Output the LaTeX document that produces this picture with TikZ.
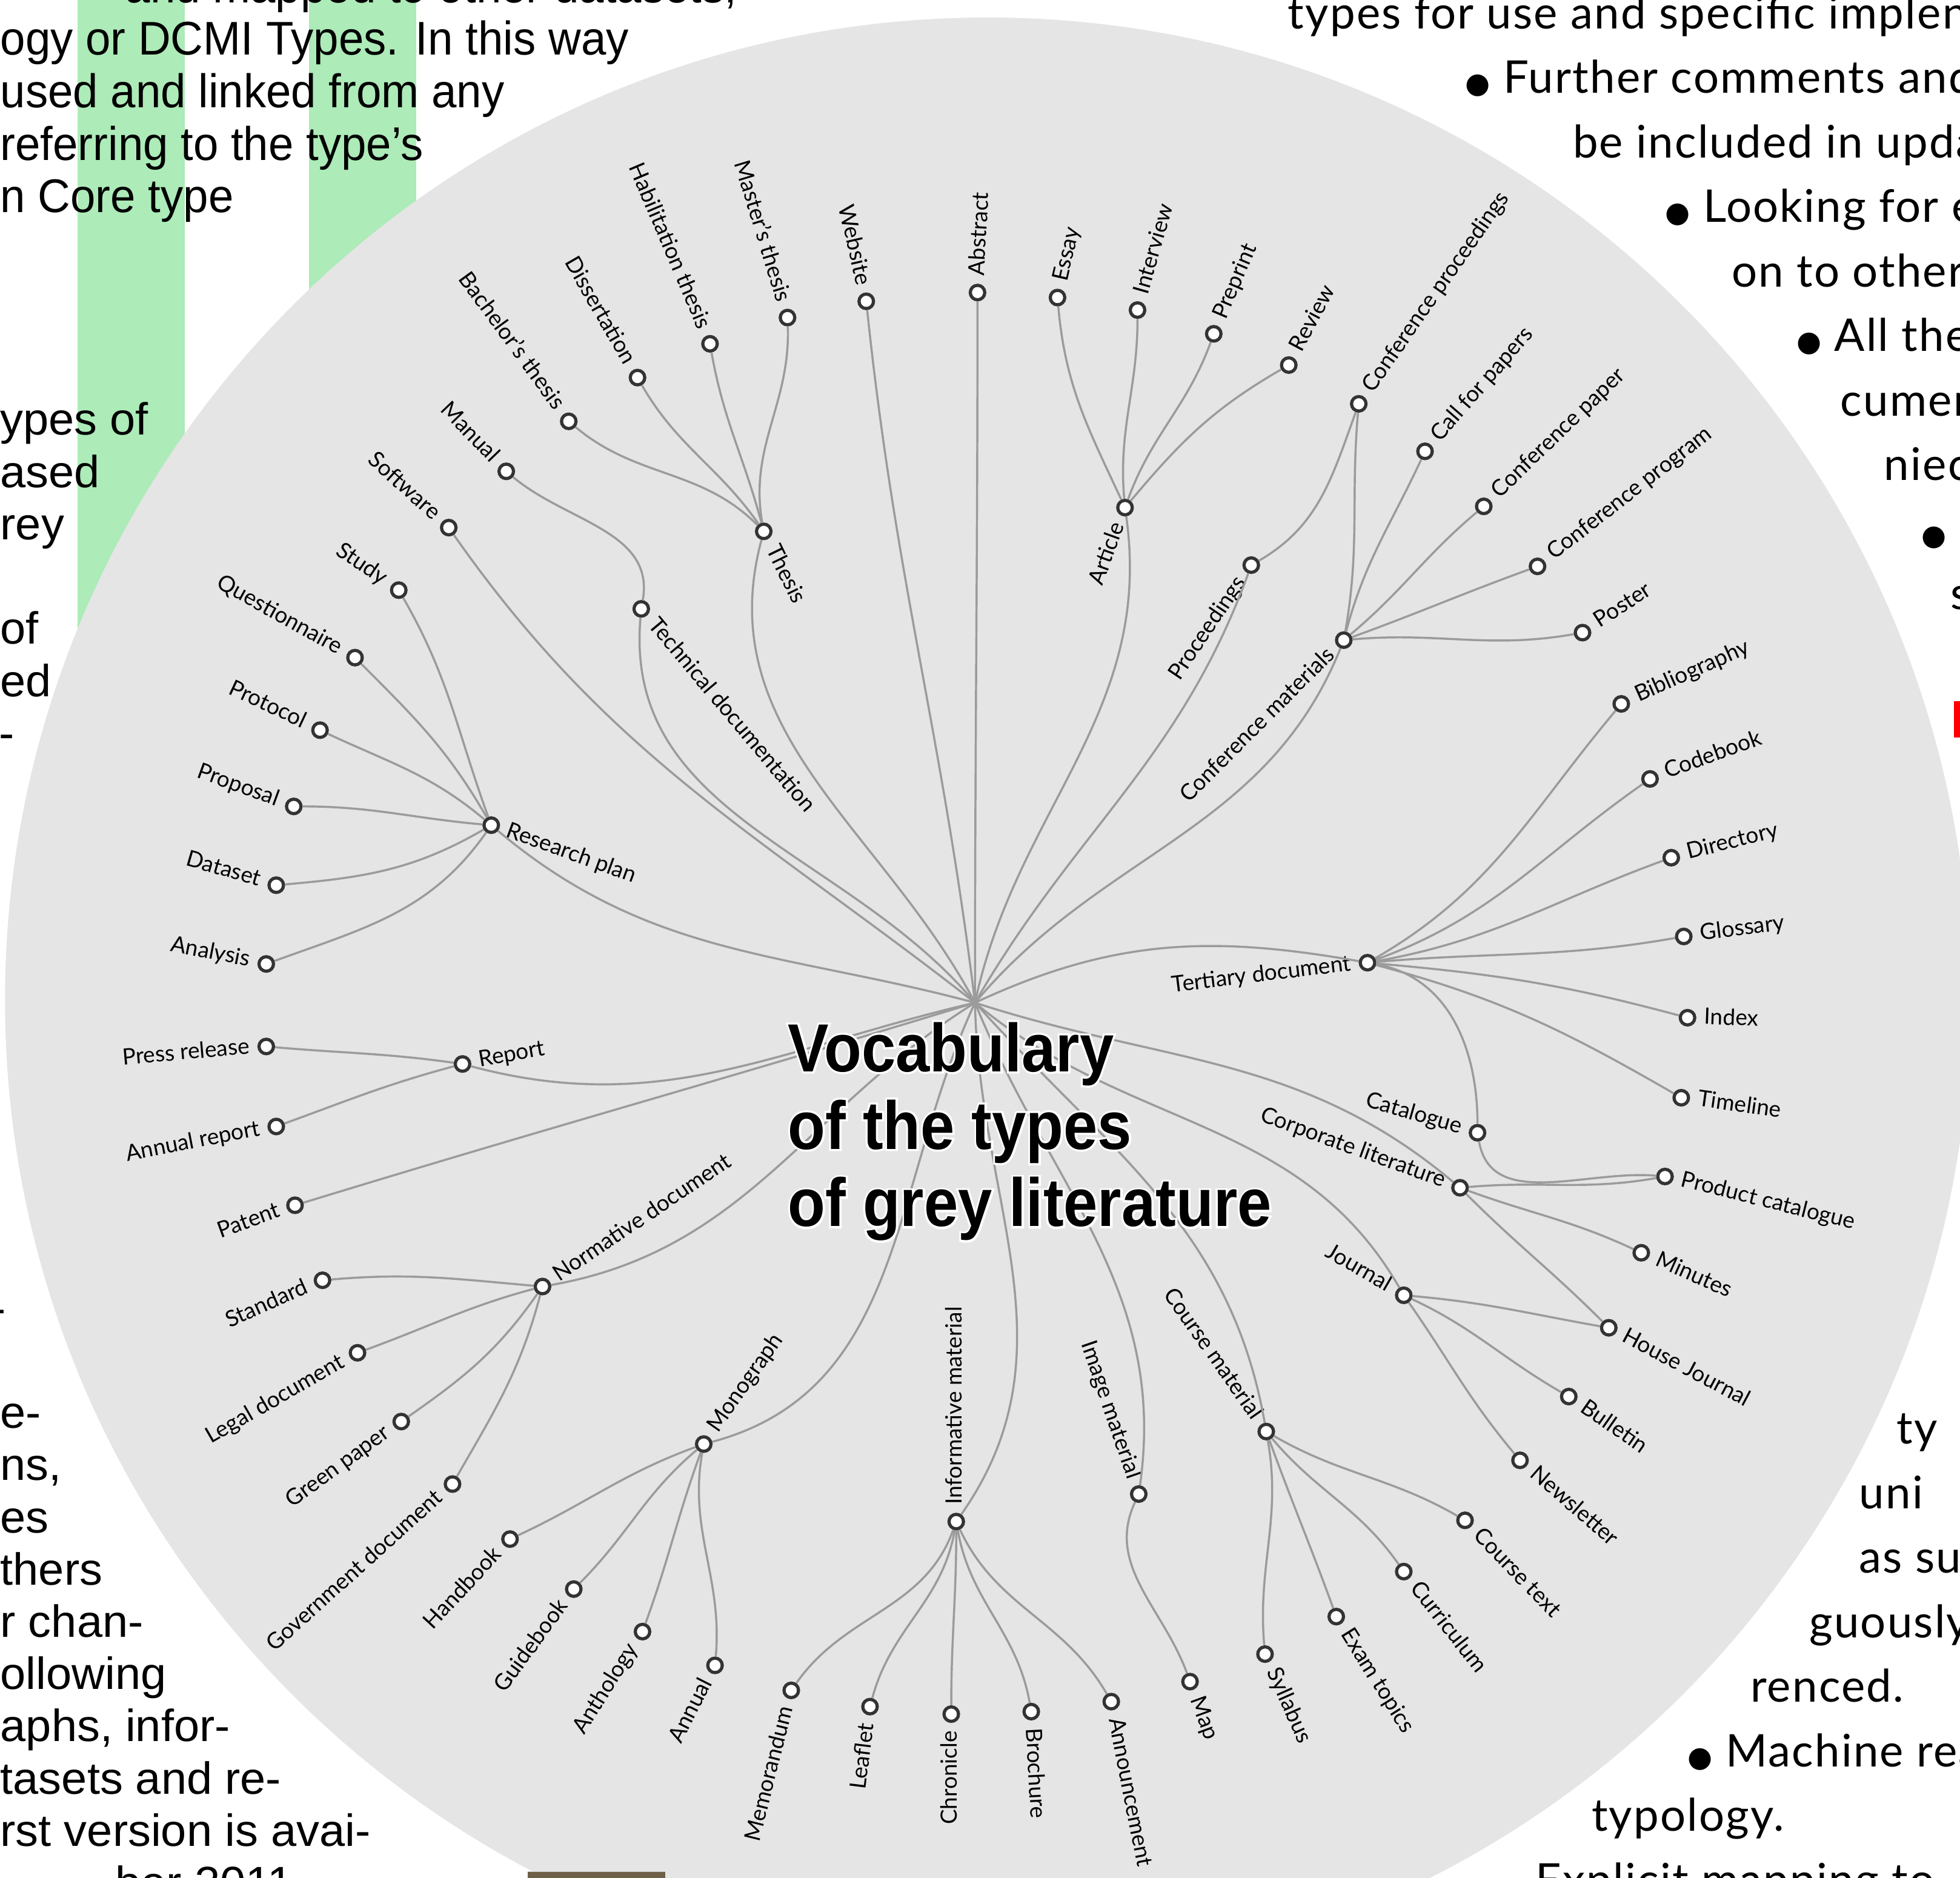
\documentclass[tikz,border=0pt]{standalone}
\usepackage{fontspec}
\usepackage{graphicx}
\setmainfont{Lato}
\newfontfamily\lblfont{Lato}
\newfontfamily\sidefont[LetterSpace=3]{Lato}
\newfontfamily\titlefont[FakeStretch=0.9]{Liberation Sans Bold}
\newfontfamily\titlehalo[FakeStretch=0.9, FakeBold=6]{Liberation Sans Bold}
\newfontfamily\condfont[FakeStretch=0.955]{Liberation Sans}
\newfontfamily\leftfont[FakeStretch=1.02]{Liberation Sans}
\newfontfamily\symfont{DejaVu Sans}

\definecolor{disc}{HTML}{E5E5E5}
\definecolor{barcol}{HTML}{ADEBB8}
\definecolor{linkcol}{HTML}{9B9B9B}
\definecolor{ringcol}{HTML}{333333}
\definecolor{photocol}{HTML}{6E5F48}

% white outline behind the title letters
\newcommand\halo[1]{\rlap{\titlehalo\color{white}#1}#1}
\newcommand\bul{{\symfont\fontsize{13}{13}\selectfont ●}}

\begin{document}
\begin{tikzpicture}[x=0.2mm, y=0.2mm,
  dot/.style={circle, draw=ringcol, fill=white, line width=1.45pt, inner sep=0pt, minimum size=6.6pt},
  lbl/.style={font=\lblfont\fontsize{10.2}{12}\selectfont, inner sep=0pt, text height=7pt, text depth=1.7pt},
  lbl east/.style={lbl, anchor=east, rotate=#1, xshift=-7.5pt},
  lbl west/.style={lbl, anchor=west, rotate=#1, xshift=7.5pt},
  link/.style={draw=linkcol, line width=0.95pt},
  ttl/.style={font=\titlefont\fontsize{31}{35}\selectfont, inner sep=0pt, anchor=base west},
  condtext/.style={font=\condfont\fontsize{21.5}{25}\selectfont, inner sep=0pt, anchor=base west},
  sidetext/.style={font=\leftfont\fontsize{20.5}{24}\selectfont, inner sep=0pt, anchor=base west},
  righttext/.style={font=\sidefont\fontsize{20.5}{24}\selectfont, inner sep=0pt, anchor=base west}]

\useasboundingbox (0,0) rectangle (1568,-1502);
\clip (0,0) rectangle (1568,-1502);

% green columns, then the disc over them
\fill[barcol] (62,0) rectangle (148,-620);
\fill[barcol] (247,0) rectangle (333,-400);
\fill[disc] (790,-800) circle (786);

% page text round the disc
\node[condtext, anchor=base east] (top0) at (590,-2) {and mapped to other datasets,};
\foreach \k/\t in {1/ogy or DCMI Types. In this way, 2/used and linked from any,
    3/referring to the type’s, 4/n Core type}
  \node[condtext] (top\k) at (0,{-2-42*\k}) {\t};
\foreach \k/\t in {0/ypes of, 1/ased, 2/rey, 4/of, 5/ed, 19/e-, 20/{ns,}, 21/es, 22/thers,
    23/r chan-, 24/ollowing, 25/{aphs, infor-}, 26/tasets and re-, 27/rst version is avai-}
  \node[sidetext] (side\k) at (0,{-348-41.8*\k}) {\t};
\foreach \k/\e/\t in {6/12/-, 17/5/-, 28/235/ber 2011}
  \node[sidetext, anchor=base east] (side\k) at (\e,{-348-41.8*\k}) {\t};
\foreach \k/\s/\t in {0/1030/types for use and specific implen, 1/1172/\bul\ Further comments and,
    2/1258/be included in upda, 3/1332/\bul\ Looking for e, 4/1385/on to other, 5/1437/\bul\ All the,
    6/1472/cumer, 7/1507/niec, 8/1537/\bul\ I, 9/1560/s}
  \node[righttext] (rtop\k) at (\s,{-23-51.6*\k}) {\t};
\foreach \k/\s/\t in {0/1517/ty, 1/1487/uni, 2/1487/as su, 3/1447/guously, 4/1400/renced.,
    5/1350/\bul\ Machine rea, 6/1273/typology., 7/1228/Explicit mapping to}
  \node[righttext] (rbot\k) at (\s,{-1155-51.6*\k}) {\t};
\fill[red] (1563,-561) rectangle (1568,-590);
\fill[photocol] (422,-1497) rectangle (532,-1503);
\draw[gray!40, line width=0.4pt] (422,-1497) -- (532,-1497);

% the tree
\coordinate (hub) at (780,-802);
\foreach \n/\x/\y/\a/\t in {website/693/241/-77/Website, article/900/406/70/Article,
    proc/1001/452/56/Proceedings, confmat/1075/512/45/Conference materials,
    tertiary/1094/770/7/Tertiary document, corplit/1168/950/-20/Corporate literature,
    catalogue/1182/906/-16/Catalogue, journal/1123/1036/-30/Journal,
    course/1013/1145/-55/Course material, image/911/1195/-71/Image material,
    patent/236/964/20/Patent, software/359/422/-42/Software,
    mthesis/630/254/-73/Master’s thesis, habil/568/275/-67/Habilitation thesis,
    diss/510/302/-60/Dissertation, bach/455/337/-54/Bachelor’s thesis,
    manual/405/377/-46/Manual, study/319/472/-34/Study, quest/284/526/-29/Questionnaire,
    protocol/256/584/-25/Protocol, proposal/235/645/-20/Proposal, dataset/221/708/-16/Dataset,
    analysis/213/771/-11/Analysis, press/213/837/5/Press release, annrep/221/901/11/Annual report,
    standard/258/1024/24/Standard, legal/286/1082/30/Legal document, green/321/1137/36/Green paper,
    govdoc/362/1187/42/Government document, handbook/408/1231/47/Handbook,
    guide/459/1271/54/Guidebook, antho/514/1305/58/Anthology, annual/572/1332/63/Annual,
    memo/633/1352/76/Memorandum, leaflet/696/1365/83/Leaflet, chronicle/761/1371/90/Chronicle}
{
  \node[dot] (\n) at (\x,-\y) {};
  \node[lbl east=\a] (\n-lab) at (\n) {\t};
}
\foreach \n/\x/\y/\a/\t in {thesis/611/425/-64/Thesis, abstract/782/234/87/Abstract,
    inform/765/1217/90/Informative material, mono/563/1155/55/Monograph,
    normative/434/1029/34/Normative document, report/370/851/10/Report,
    research/393/660/-20/Research plan, techdoc/513/487/-50/Technical documentation,
    brochure/825/1369/-87/Brochure, announce/889/1361/-79/Announcement, map/952/1345/-70/Map,
    syllabus/1012/1323/-66/Syllabus, exam/1069/1293/-58/Exam topics, curric/1123/1257/-52/Curriculum,
    coursetext/1172/1216/-46/Course text, newsletter/1216/1168/-41/Newsletter,
    bulletin/1255/1117/-35/Bulletin, housej/1287/1062/-28/House Journal, minutes/1313/1002/-24/Minutes,
    prodcat/1332/941/-14/Product catalogue, timeline/1345/878/-8/Timeline, index/1350/814/-2/Index,
    glossary/1347/749/7/Glossary, directory/1337/686/14/Directory, codebook/1320/623/20/Codebook,
    biblio/1297/563/24/Bibliography, poster/1266/506/33/Poster, confprog/1230/453/38/Conference program,
    confpaper/1187/405/44/Conference paper, cfp/1140/361/49/Call for papers,
    confproc/1087/323/55/Conference proceedings, review/1031/292/62/Review,
    preprint/971/267/67/Preprint, interview/910/248/74/Interview, essay/846/238/77/Essay}
{
  \node[dot] (\n) at (\x,-\y) {};
  \node[lbl west=\a] (\n-lab) at (\n) {\t};
}

\foreach \a/\b/\o/\i in {hub/thesis/118/-105, hub/website/97/-84, hub/abstract/90/-90,
    hub/article/78/-82, hub/proc/60/-110, hub/confmat/50/-112, hub/tertiary/25/170,
    hub/corplit/-18/140, hub/journal/-40/120, hub/course/-48/100, hub/image/-68/82,
    hub/inform/-89/55, hub/mono/-115/15, hub/normative/-148/10, hub/patent/-163/17,
    hub/report/193/-15, hub/research/165/-40, hub/software/142/-55, hub/techdoc/130/-95,
    thesis/mthesis/100/-88, thesis/habil/105/-80, thesis/diss/125/-60, thesis/bach/135/-40,
    techdoc/manual/80/-40,
    research/study/110/-60, research/quest/120/-45, research/protocol/140/-25,
    research/proposal/175/0, research/dataset/-150/5, research/analysis/-125/20,
    report/press/172/-5, report/annrep/195/20,
    normative/standard/175/5, normative/legal/195/20, normative/green/-125/35, normative/govdoc/-105/60,
    mono/handbook/200/25, mono/guide/220/45, mono/antho/250/70, mono/annual/-100/85,
    inform/memo/-110/55, inform/leaflet/-100/75, inform/chronicle/-90/90,
    inform/brochure/-80/100, inform/announce/-65/120,
    image/map/-115/110,
    course/syllabus/-80/95, course/exam/-70/110, course/curric/-50/125, course/coursetext/-30/150,
    journal/housej/-5/170, journal/bulletin/-25/150, journal/newsletter/-55/130,
    corplit/prodcat/5/190, corplit/minutes/-20/155, corplit/housej/-45/135,
    catalogue/prodcat/-80/175,
    tertiary/biblio/30/-130, tertiary/codebook/20/-145, tertiary/directory/10/-160,
    tertiary/glossary/5/-170, tertiary/index/-5/165, tertiary/timeline/-15/150,
    tertiary/catalogue/-10/90,
    confmat/confproc/80/-95, confmat/cfp/75/-115, confmat/confpaper/40/-140,
    confmat/confprog/20/-160, confmat/poster/5/-170, proc/confproc/30/-110,
    article/essay/115/-85, article/interview/95/-90, article/preprint/70/-110, article/review/50/-150}
  \draw[link] (\a) to[out=\o, in=\i] (\b);

% title
\node[ttl] (title1) at (630,-857) {\halo{Vocabulary}};
\node[ttl] (title2) at (630,-919) {\halo{of the types}};
\node[ttl] (title3) at (630,-981) {\halo{of grey literature}};
\end{tikzpicture}
\end{document}
